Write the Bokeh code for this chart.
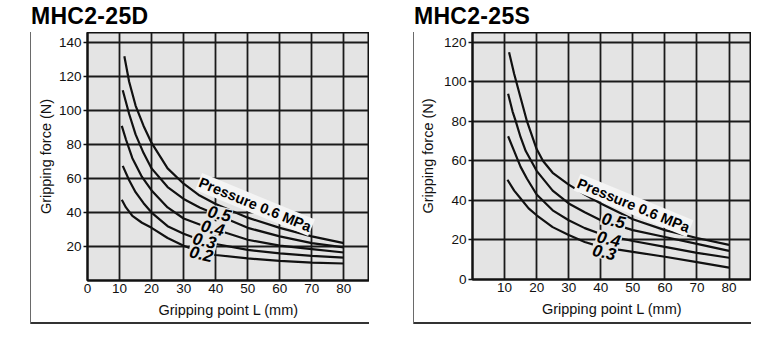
from bokeh.plotting import figure
from bokeh.layouts import row, column
from bokeh.models import Label, FixedTicker, Div
from bokeh.embed import file_html
from bokeh.resources import INLINE

# ---------------- data: MHC2-25D ----------------
d_title = "MHC2-25D"
d_x_ticks = [0, 10, 20, 30, 40, 50, 60, 70, 80]
d_y_ticks = [20, 40, 60, 80, 100, 120, 140]
d_L_06 = [11.5, 13, 15, 17.5, 20, 25, 30, 35, 40, 50, 60, 70, 80]
d_F_06 = [132, 117, 103, 91, 81, 66, 57, 50, 45, 37, 31, 26, 22]
d_L_05 = [11, 13, 15, 17.5, 20, 25, 30, 35, 40, 50, 60, 70, 80]
d_F_05 = [112, 98, 86, 75, 66, 55, 48, 43, 39, 31, 26, 22, 19.5]
d_L_04 = [10.7, 12, 14, 17, 20, 25, 30, 35, 40, 50, 60, 70, 80]
d_F_04 = [91, 83, 72, 61, 53, 43, 36.5, 33, 30, 24, 20.5, 18.5, 16.5]
d_L_03 = [11, 13, 15, 17.5, 20, 25, 30, 35, 40, 50, 60, 70, 80]
d_F_03 = [67.5, 59, 52, 45.5, 40, 32, 27.5, 24, 21.5, 18, 16, 14.5, 13.5]
d_L_02 = [10.7, 12, 14, 17, 20, 25, 30, 35, 40, 50, 60, 70, 80]
d_F_02 = [47.5, 43, 38, 34, 31, 25, 20.5, 17, 15, 13, 11.5, 10.5, 10]
d_label_text = ["Pressure 0.6 MPa", "0.5", "0.4", "0.3", "0.2"]
d_label_x = [52.3, 41.2, 39.1, 36.5, 35.5]
d_label_y = [44.7, 39.4, 31.0, 23.5, 15.7]

# ---------------- data: MHC2-25S ----------------
s_title = "MHC2-25S"
s_x_ticks = [10, 20, 30, 40, 50, 60, 70, 80]
s_y_ticks = [0, 20, 40, 60, 80, 100, 120]
s_L_06 = [11.4, 13, 15, 17, 20, 22, 25, 30, 35, 40, 50, 60, 70, 80]
s_F_06 = [115, 104, 92, 80, 66, 60, 54, 48, 43, 38.5, 30.5, 25, 21, 17.5]
s_L_05 = [11.1, 12.5, 13.5, 15, 16.6, 20, 25, 30, 35, 40, 50, 60, 70, 80]
s_F_05 = [94, 85, 80, 72, 65, 55, 45, 38.5, 34, 30, 25, 21.5, 18, 14.5]
s_L_04 = [11.1, 13, 15, 17, 20, 25, 30, 35, 40, 50, 60, 70, 80]
s_F_04 = [72.5, 65, 57, 51, 43, 35, 30, 26, 23, 19.5, 16.5, 13.5, 11]
s_L_03 = [10.9, 13, 15, 17.5, 20, 25, 30, 35, 40, 50, 60, 70, 80]
s_F_03 = [50.5, 45, 41, 36, 32.5, 26.5, 22.5, 19, 16.5, 14, 11.5, 8.8, 6]
s_label_text = ["Pressure 0.6 MPa", "0.5", "0.4", "0.3"]
s_label_x = [50.2, 44.0, 42.5, 41.1]
s_label_y = [37.5, 29.9, 20.6, 13.8]

FONT = "Liberation Sans"
BG = "#e4e4e4"
INK = "#111111"


def make_panel(title, xt, yt, curves, ltext, lx, ly, box_w, xmax, ymax,
               bl, bb, pad_left, pad_right, ylab_standoff):
    p = figure(width=box_w, height=292, x_range=(0, xmax), y_range=(0, ymax),
               output_backend="svg", toolbar_location=None,
               min_border_left=bl, min_border_right=0, min_border_top=0,
               min_border_bottom=bb, background_fill_color=BG,
               border_fill_color=None, outline_line_color=INK,
               outline_line_width=2,
               margin=(0, pad_right, 0, pad_left),
               styles={"background-color": "white",
                       "box-shadow": "inset 1px 0 0 0 #6a6a6a, inset 0 -2px 0 0 #333333"})

    for ax in (p.xaxis[0], p.yaxis[0]):
        ax.axis_line_color = INK
        ax.axis_line_width = 2
        ax.major_label_text_font = FONT
        ax.major_label_text_font_size = "13.5px"
        ax.major_label_text_color = "#111111"
        ax.axis_label_text_font = FONT
        ax.axis_label_text_font_size = "14.5px"
        ax.axis_label_text_font_style = "normal"
        ax.axis_label_text_color = "#111111"
        ax.minor_tick_line_color = None
        ax.major_tick_line_color = INK
        ax.major_tick_line_width = 1.6
        ax.major_tick_in = 0
    p.xaxis.ticker = FixedTicker(ticks=xt)
    p.yaxis.ticker = FixedTicker(ticks=yt)
    p.xgrid.ticker = FixedTicker(ticks=xt)
    p.ygrid.ticker = FixedTicker(ticks=yt)
    p.xaxis.major_tick_out = 0
    p.yaxis.major_tick_out = 4
    p.xaxis.major_label_standoff = 3
    p.yaxis.major_label_standoff = 2
    p.xaxis.axis_label = "Gripping point L (mm)"
    p.yaxis.axis_label = "Gripping force (N)"
    p.xaxis.axis_label_standoff = 6
    p.yaxis.axis_label_standoff = ylab_standoff
    for g in (p.xgrid[0], p.ygrid[0]):
        g.grid_line_color = "#1a1a1a"
        g.grid_line_width = 1.8

    for L, F in curves:
        p.line(L, F, line_color=INK, line_width=2.2)

    for i, (t, x, y) in enumerate(zip(ltext, lx, ly)):
        big = i == 0
        lab = Label(x=x, y=y, text=t, text_font=FONT,
                    text_font_size="14.5px" if big else "17px",
                    text_font_style="bold" if big else "bold italic",
                    text_color="#000000", text_align="center",
                    text_baseline="middle",
                    angle=-0.39 if big else -0.22,
                    background_fill_color="#f4f4f4" if big else BG,
                    background_fill_alpha=1.0, padding=1)
        p.add_layout(lab)

    head = Div(text=title, width=box_w + pad_left + pad_right, height=32,
               margin=(0, 0, 0, 0),
               styles={"font-family": FONT, "font-size": "23px",
                       "font-weight": "bold", "color": "#000",
                       "padding-left": f"{pad_left + 1}px", "padding-top": "5px",
                       "letter-spacing": "0.3px", "line-height": "23px",
                       "box-sizing": "border-box"})
    return column(head, p, spacing=0)


c1 = make_panel(d_title, d_x_ticks, d_y_ticks,
                [(d_L_06, d_F_06), (d_L_05, d_F_05), (d_L_04, d_F_04),
                 (d_L_03, d_F_03), (d_L_02, d_F_02)],
                d_label_text, d_label_x, d_label_y,
                box_w=339, xmax=88, ymax=146, bl=57, bb=44,
                pad_left=30, pad_right=21, ylab_standoff=2)
c2 = make_panel(s_title, s_x_ticks, s_y_ticks,
                [(s_L_06, s_F_06), (s_L_05, s_F_05), (s_L_04, s_F_04),
                 (s_L_03, s_F_03)],
                s_label_text, s_label_x, s_label_y,
                box_w=338, xmax=87, ymax=125, bl=59, bb=45,
                pad_left=23, pad_right=18, ylab_standoff=5)

layout = row(c1, c2, spacing=0)
open("out.html", "w").write(file_html(layout, INLINE))
